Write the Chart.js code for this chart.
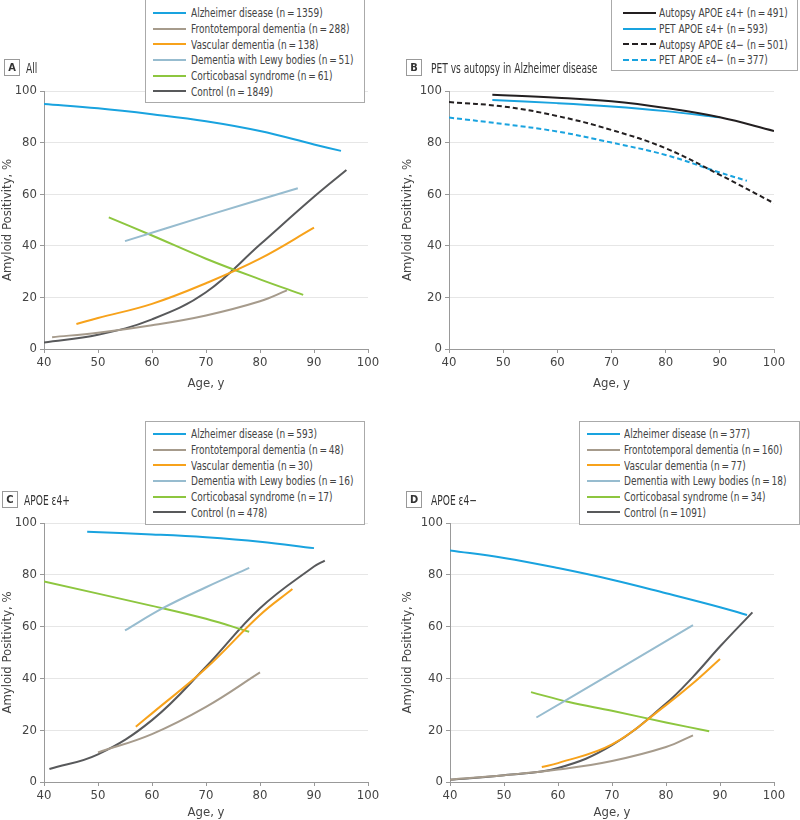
<!DOCTYPE html>
<html>
<head>
<meta charset="utf-8">
<title>Amyloid positivity by age</title>
<script src="https://cdn.jsdelivr.net/npm/chart.js@4.4.0/dist/chart.umd.min.js"></script>
<style>
    body { margin: 0; background: #fff; font-family: "Liberation Sans Narrow", "DejaVu Sans Condensed", sans-serif; color: #333; }
    #page { position: relative; width: 800px; height: 820px; overflow: hidden; }
    .panel { position: absolute; width: 400px; height: 410px; }
    .tag { position: absolute; font-size: 13.5px; display: flex; align-items: center; height: 17px; z-index: 2; color: #333; white-space: nowrap; }
    .tag b { display: inline-block; box-sizing: border-box; width: 16px; height: 17px; border: 1px solid #999; text-align: center; line-height: 15px; font-size: 11px; margin-right: 6px; flex-shrink: 0; }
    .tag span { display: inline-block; transform: scaleX(0.75); transform-origin: left center; }
    .legend { position: absolute; border: 1px solid #aaa; background: #fff; box-sizing: border-box; font-size: 12.5px; color: #444; z-index: 2; }
    .legend .row { height: 15.7px; display: flex; align-items: center; white-space: nowrap; }
    .legend .swatch { display: inline-block; flex-shrink: 0; width: 33px; height: 0; border-top: 2px solid; }
    .legend .text { display: inline-block; transform: scaleX(0.8); transform-origin: left center; }
</style>
</head>
<body>
<div id="page">
    <div class="panel" style="left:0;top:0"><canvas id="chartA" width="400" height="410"></canvas></div>
    <div class="panel" style="left:400px;top:0"><canvas id="chartB" width="400" height="410"></canvas></div>
    <div class="panel" style="left:0;top:410px"><canvas id="chartC" width="400" height="410"></canvas></div>
    <div class="panel" style="left:400px;top:410px"><canvas id="chartD" width="400" height="410"></canvas></div>

    <div class="tag" style="left:4px;top:59px"><b>A</b><span>All</span></div>
    <div class="tag" style="left:406px;top:59px"><b>B</b><span style="margin-left:3px">PET vs autopsy in Alzheimer disease</span></div>
    <div class="tag" style="left:2px;top:491px"><b>C</b><span>APOE ε4+</span></div>
    <div class="tag" style="left:406px;top:491px"><b>D</b><span style="margin-left:3px">APOE ε4−</span></div>

    <div class="legend" id="legendA" style="left:145px;top:-1px;width:220px;height:104px;padding:5px 0 0 7px"></div>
    <div class="legend" id="legendB" style="left:611px;top:-1px;width:187px;height:72px;padding:5px 0 0 11px"></div>
    <div class="legend" id="legendC" style="left:145px;top:421px;width:220px;height:104px;padding:4px 0 0 7px"></div>
    <div class="legend" id="legendD" style="left:579px;top:421px;width:221px;height:104px;padding:4px 0 0 7px"></div>
</div>

<script>
// colours
const AD_BLUE = '#19a3df';
const FTD_TAUPE = '#a69b8c';
const VD_ORANGE = '#f7a21b';
const DLB_BLUE = '#97bccf';
const CBS_GREEN = '#8dc63f';
const CTL_GRAY = '#58595b';
const BLACK = '#231f20';

// Panel A - all participants
const adAgeA = [40, 50, 60, 70, 80, 90, 95];
const adValA = [95, 93.3, 91, 88.3, 84.5, 79.3, 76.8];
const ftdAgeA = [41.5, 50, 60, 70, 80, 85];
const ftdValA = [4.6, 6.3, 9.2, 13, 18.5, 22.7];
const vdAgeA = [46, 50, 60, 70, 80, 90];
const vdValA = [9.7, 12, 17.5, 25.5, 35, 47];
const dlbAgeA = [55, 70, 87];
const dlbValA = [41.8, 51.6, 62.3];
const cbsAgeA = [52, 60, 70, 80, 88];
const cbsValA = [51, 44, 35, 27, 21];
const ctlAgeA = [40, 50, 60, 70, 80, 90, 96];
const ctlValA = [2.5, 5.5, 11.5, 22, 40.5, 59, 69.4];

// Panel B - PET vs autopsy in Alzheimer disease
const autoPosAge = [48, 60, 70, 80, 90, 100];
const autoPosVal = [98.5, 97.4, 96, 93.4, 89.8, 84.5];
const petPosAge = [48, 60, 70, 80, 90];
const petPosVal = [96.5, 95.3, 94, 92.2, 89.8];
const autoNegAge = [40, 50, 60, 70, 80, 90, 100];
const autoNegVal = [95.7, 94, 90.3, 84.9, 77.8, 67.5, 56.5];
const petNegAge = [40, 50, 60, 70, 80, 90, 95];
const petNegVal = [89.7, 87.2, 84.3, 80, 75.2, 68.4, 65.2];

// Panel C - APOE e4 carriers
const adAgeC = [48, 60, 70, 80, 90];
const adValC = [96.6, 95.6, 94.5, 92.8, 90.3];
const ftdAgeC = [50, 60, 70, 80];
const ftdValC = [11.4, 18.5, 29, 42.3];
const vdAgeC = [57, 60, 70, 80, 86];
const vdValC = [21.3, 26.5, 43.9, 64.5, 74.5];
const dlbAgeC = [55, 62, 70, 78];
const dlbValC = [58.5, 67.1, 75.2, 82.7];
const cbsAgeC = [40, 60, 70, 78];
const cbsValC = [77.4, 68, 63, 58];
const ctlAgeC = [41, 50, 60, 70, 80, 90, 92];
const ctlValC = [5, 10.7, 23.9, 44.5, 67.1, 83.2, 85.5];

// Panel D - APOE e4 noncarriers
const adAgeD = [40, 50, 60, 70, 80, 90, 95];
const adValD = [89.4, 86.5, 82.6, 78.1, 72.9, 67.5, 64.5];
const ftdAgeD = [40, 50, 60, 70, 80, 85];
const ftdValD = [0.9, 2.6, 4.8, 8.1, 13.5, 18];
const vdAgeD = [57, 60, 70, 80, 85, 90];
const vdValD = [5.8, 7.3, 14.5, 29.7, 38.1, 47.5];
const dlbAgeD = [56, 70, 85];
const dlbValD = [24.9, 42, 60.6];
const cbsAgeD = [55, 62, 70, 80, 88];
const cbsValD = [34.7, 30.9, 27.5, 23, 19.6];
const ctlAgeD = [40, 50, 60, 70, 80, 85, 90, 96];
const ctlValD = [0.9, 2.6, 5.4, 14.2, 30.3, 40.6, 52.3, 65.5];

const FONT = '"Liberation Sans Narrow", "DejaVu Sans Condensed", sans-serif';

function series(label, ages, values, color, dashed) {
    return {
        label: label,
        data: ages.map((a, i) => ({ x: a, y: values[i] })),
        borderColor: color,
        borderWidth: 2,
        borderDash: dashed ? [5, 3] : [],
        pointRadius: 0,
        tension: 0.4,
        fill: false
    };
}

function diagnosisSeries(n, ad, ftd, vd, dlb, cbs, ctl) {
    return [
        series(`Alzheimer disease (n\u2009=\u2009${n[0]})`, ad[0], ad[1], AD_BLUE),
        series(`Frontotemporal dementia (n\u2009=\u2009${n[1]})`, ftd[0], ftd[1], FTD_TAUPE),
        series(`Vascular dementia (n\u2009=\u2009${n[2]})`, vd[0], vd[1], VD_ORANGE),
        series(`Dementia with Lewy bodies (n\u2009=\u2009${n[3]})`, dlb[0], dlb[1], DLB_BLUE),
        series(`Corticobasal syndrome (n\u2009=\u2009${n[4]})`, cbs[0], cbs[1], CBS_GREEN),
        series(`Control (n\u2009=\u2009${n[5]})`, ctl[0], ctl[1], CTL_GRAY)
    ];
}

// box = where the plot area sits inside the 400x410 canvas
function createPanel(canvasId, datasets, box) {
    const ctx = document.getElementById(canvasId).getContext('2d');
    return new Chart(ctx, {
        type: 'line',
        data: { datasets: datasets },
        options: {
            responsive: false,
            animation: false,
            layout: { padding: { top: box.top, right: 400 - box.right, left: 0, bottom: 0 } },
            plugins: { legend: { display: false }, tooltip: { enabled: false } },
            scales: {
                x: {
                    type: 'linear',
                    min: 40,
                    max: 100,
                    ticks: { stepSize: 10, color: '#444', font: { family: FONT, size: 13 }, padding: 2 },
                    grid: { display: true, drawOnChartArea: false, tickLength: 4, color: '#999' },
                    border: { color: '#999' },
                    title: { display: true, text: 'Age, y', color: '#444', font: { family: FONT, size: 13 }, padding: { top: 0, bottom: box.titlePad } },
                    afterFit: (s) => { s.height = 410 - box.bottom; }
                },
                y: {
                    min: 0,
                    max: 100,
                    ticks: { stepSize: 20, color: '#444', font: { family: FONT, size: 13 }, padding: 3 },
                    grid: { color: '#e6e6e6', tickColor: '#999', tickLength: 4 },
                    border: { color: '#999' },
                    title: { display: true, text: 'Amyloid Positivity, %', color: '#444', font: { family: FONT, size: 13 }, padding: 0 },
                    afterFit: (s) => { s.width = box.left; }
                }
            }
        }
    });
}

function buildLegend(elId, datasets, gap) {
    const el = document.getElementById(elId);
    datasets.forEach(ds => {
        const row = document.createElement('div');
        row.className = 'row';
        const swatch = document.createElement('span');
        swatch.className = 'swatch';
        swatch.style.borderTopColor = ds.borderColor;
        if (ds.borderDash.length) swatch.style.borderTopStyle = 'dashed';
        swatch.style.marginRight = gap + 'px';
        const text = document.createElement('span');
        text.className = 'text';
        text.textContent = ds.label;
        row.appendChild(swatch);
        row.appendChild(text);
        el.appendChild(row);
    });
}

const dataA = diagnosisSeries([1359, 288, 138, 51, 61, 1849],
    [adAgeA, adValA], [ftdAgeA, ftdValA], [vdAgeA, vdValA], [dlbAgeA, dlbValA], [cbsAgeA, cbsValA], [ctlAgeA, ctlValA]);
const dataB = [
    series('Autopsy APOE ε4+ (n\u2009=\u2009491)', autoPosAge, autoPosVal, BLACK),
    series('PET APOE ε4+ (n\u2009=\u2009593)', petPosAge, petPosVal, AD_BLUE),
    series('Autopsy APOE ε4− (n\u2009=\u2009501)', autoNegAge, autoNegVal, BLACK, true),
    series('PET APOE ε4− (n\u2009=\u2009377)', petNegAge, petNegVal, AD_BLUE, true)
];
const dataC = diagnosisSeries([593, 48, 30, 16, 17, 478],
    [adAgeC, adValC], [ftdAgeC, ftdValC], [vdAgeC, vdValC], [dlbAgeC, dlbValC], [cbsAgeC, cbsValC], [ctlAgeC, ctlValC]);
const dataD = diagnosisSeries([377, 160, 77, 18, 34, 1091],
    [adAgeD, adValD], [ftdAgeD, ftdValD], [vdAgeD, vdValD], [dlbAgeD, dlbValD], [cbsAgeD, cbsValD], [ctlAgeD, ctlValD]);

createPanel('chartA', dataA, { left: 44, right: 368, top: 91, bottom: 349, titlePad: 19 });
createPanel('chartB', dataB, { left: 49, right: 374, top: 91, bottom: 349, titlePad: 19 });
createPanel('chartC', dataC, { left: 44, right: 368, top: 113, bottom: 372, titlePad: 0 });
createPanel('chartD', dataD, { left: 50, right: 374, top: 113, bottom: 372, titlePad: 0 });

buildLegend('legendA', dataA, 5);
buildLegend('legendB', dataB, 3);
buildLegend('legendC', dataC, 5);
buildLegend('legendD', dataD, 4);
</script>
</body>
</html>
